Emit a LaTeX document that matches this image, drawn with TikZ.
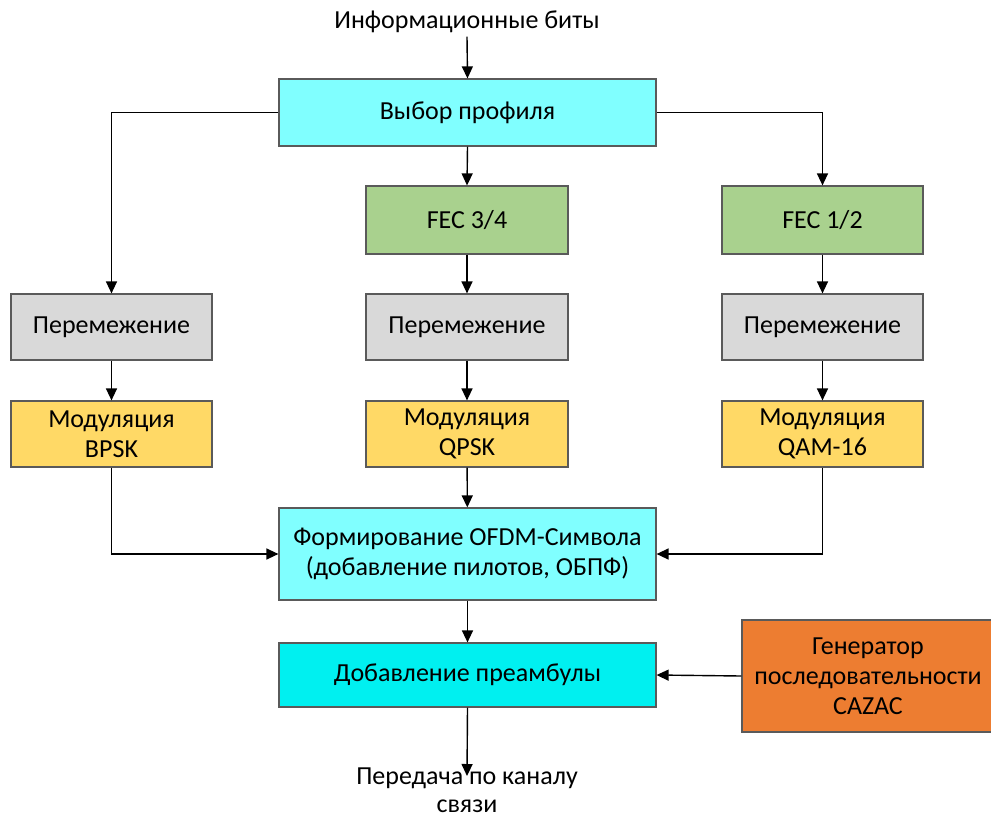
\documentclass[tikz,border=0pt]{standalone}
\usepackage{fontspec}
\setmainfont{Carlito}
\usetikzlibrary{arrows.meta}
\definecolor{cyanA}{RGB}{128,255,255}
\definecolor{cyanB}{RGB}{0,240,240}
\definecolor{greenA}{RGB}{169,209,142}
\definecolor{grayA}{RGB}{217,217,217}
\definecolor{yellowA}{RGB}{255,217,102}
\definecolor{orangeA}{RGB}{237,125,49}
\definecolor{borderA}{RGB}{90,90,90}
\begin{document}
\begin{tikzpicture}[x=1pt,y=-1pt,
  blk/.style={draw=borderA,line width=1.2pt,minimum width=#1,inner sep=0pt,align=center,font=\fontsize{26}{30}\selectfont},
  arr/.style={-{Triangle[length=12pt,width=11pt]},line width=1.4pt,draw=black}]
\useasboundingbox (0,0) rectangle (991,820);
\fill[white] (0,0) rectangle (991,820);
\node (top) at (467,22) {\fontsize{26}{30}\selectfont Информационные биты};
\node[blk=377pt,minimum height=67pt,fill=cyanA] (sel) at (467.5,112.5) {Выбор профиля};
\node[blk=202pt,minimum height=68pt,fill=greenA] (fec34) at (467,220) {FEC 3/4};
\node[blk=201pt,minimum height=68pt,fill=greenA] (fec12) at (822.5,220) {FEC 1/2};
\node[blk=201pt,minimum height=66pt,fill=grayA] (il1) at (111.5,327) {Перемежение};
\node[blk=202pt,minimum height=66pt,fill=grayA] (il2) at (467,327) {Перемежение};
\node[blk=201pt,minimum height=66pt,fill=grayA] (il3) at (822.5,327) {Перемежение};
\node[blk=201pt,minimum height=66pt,fill=yellowA] (m1) at (111.5,434) {Модуляция\\BPSK};
\node[blk=202pt,minimum height=66pt,fill=yellowA] (m2) at (467,434) {Модуляция\\QPSK};
\node[blk=201pt,minimum height=66pt,fill=yellowA] (m3) at (822.5,434) {Модуляция\\QAM-16};
\node[blk=377pt,minimum height=92pt,fill=cyanA] (ofdm) at (467.5,554) {Формирование OFDM-Символа\\(добавление пилотов, ОБПФ)};
\node[blk=377pt,minimum height=64pt,fill=cyanB] (pre) at (467.5,675) {Добавление преамбулы};
\node[blk=252pt,minimum height=112pt,fill=orangeA] (gen) at (868,676) {Генератор\\последовательности\\CAZAC};
\node[align=center,font=\fontsize{26}{28}\selectfont] (out) at (467,790) {Передача по каналу\\связи};
\coordinate (outend) at (467,776);
\draw[arr] (top.south) -- (sel.north);
\draw[arr] (sel.south) -- (fec34.north);
\draw[arr] (sel.west) -| (il1.north);
\draw[arr] (sel.east) -| (fec12.north);
\draw[arr] (fec34) -- (il2);
\draw[arr] (fec12) -- (il3);
\draw[arr] (il1) -- (m1);
\draw[arr] (il2) -- (m2);
\draw[arr] (il3) -- (m3);
\draw[arr] (m1.south) |- (ofdm.west);
\draw[arr] (m3.south) |- (ofdm.east);
\draw[arr] (m2) -- (ofdm);
\draw[arr] (ofdm) -- (pre);
\draw[arr] (gen.west) -- (pre.east);
\draw[arr] (pre.south) -- (outend);
\end{tikzpicture}
\end{document}
